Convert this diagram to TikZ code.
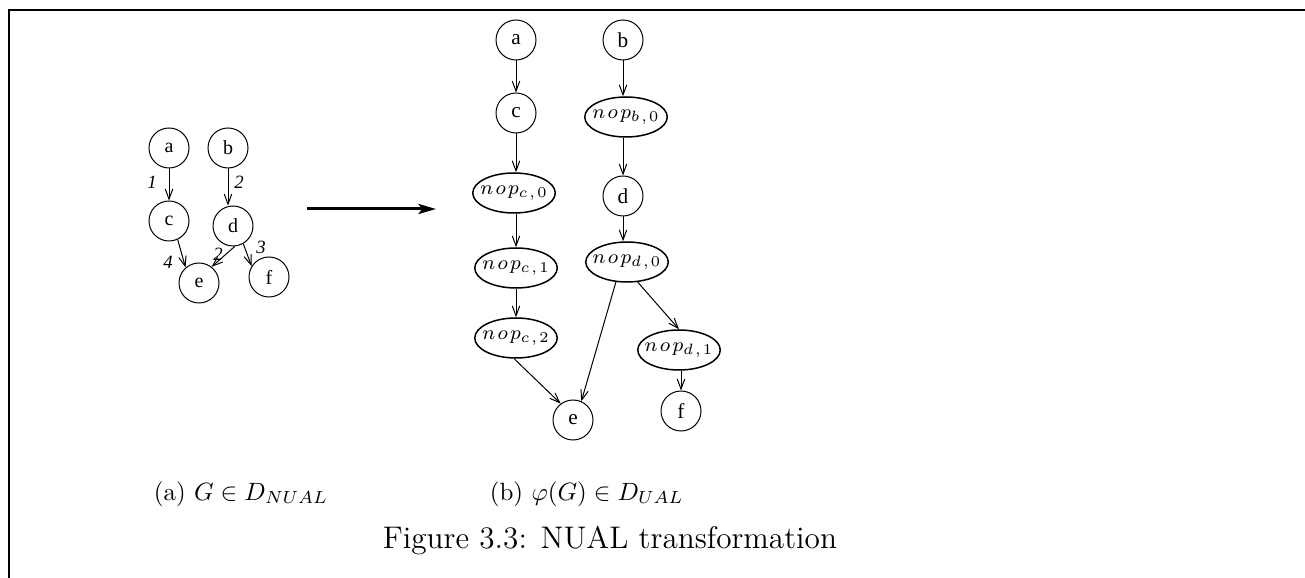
\documentclass[tikz,border=0pt]{standalone}
\usepackage{amsmath}
\usepackage{amssymb}
\usepackage{fontspec}
\usetikzlibrary{arrows.meta,shapes.geometric}
\newfontfamily\figfont{Liberation Serif}
\newcommand{\nopname}[2]{$n\mkern2mu o\mkern2mu p_{#1\mkern2mu,\mkern2mu #2}$}
\tikzset{
    vertex/.style={draw, circle, minimum size=16pt, inner sep=0pt, line width=0.4pt},
    nopnode/.style={draw, ellipse, minimum width=33pt, minimum height=16pt, inner xsep=-3pt, inner ysep=0pt,
            line width=0.6pt, font=\fontsize{8.5}{10}\selectfont},
    edge/.style={-{Straight Barb[length=4pt,width=3pt]}, line width=0.4pt},
    weight/.style={font=\fontsize{7.5}{9}\selectfont\figfont\itshape},
}

\begin{document}
\begin{tikzpicture}[x=0.4pt, y=-0.4pt]
        \useasboundingbox (0, 0) rectangle (1305, 578);
        %frame
        \draw[line width=1pt] (9, 578) -- (9, 10) -- (1305, 10);
        %graph G
        \begin{scope}[every node/.append style={font=\fontsize{8}{9}\selectfont\figfont}]
            \node[vertex] (a) at (169, 148) {a};
            \node[vertex] (b) at (228, 148) {b};
            \node[vertex] (c) at (169, 221) {c};
            \node[vertex] (d) at (233, 226) {d};
            \node[vertex] (e) at (199, 283) {e};
            \node[vertex] (f) at (269, 277) {f};
        \end{scope}
        \draw[edge] (a) -- (c);
        \draw[edge] (b) -- (b |- d.north);
        \draw[edge] (c.-65) -- (e.131);
        \draw[edge] (d.-85) -- (e.52);
        \draw[edge] (d.-60) -- (f.148);
        %label weights
        \node[weight] (w1) at (152, 182) {1};
        \node[weight] (w2) at (239, 182) {2};
        \node[weight] (w3) at (168, 262) {4};
        \node[weight] (w4) at (218, 254) {2};
        \node[weight] (w5) at (261, 247) {3};
        %transformation arrow
        \coordinate (from) at (307, 209);
        \coordinate (to) at (436, 209);
        \draw[line width=1.2pt, -{Stealth[length=7pt,width=4pt,inset=1.5pt]}] (from) -- (to);
        %graph phi(G)
        \begin{scope}[every node/.append style={font=\fontsize{8.5}{10}\selectfont\figfont}]
            \node[vertex] (ra) at (516, 40) {a};
            \node[vertex] (rb) at (623, 40) {b};
            \node[vertex] (rc) at (516, 113) {c};
            \node[vertex] (rd) at (623, 196) {d};
            \node[vertex] (re) at (573, 420) {e};
            \node[vertex] (rf) at (681, 411) {f};
        \end{scope}
        \node[nopnode] (nb0) at (626, 117) {\nopname{b}{0}};
        \node[nopnode] (nc0) at (514, 193) {\nopname{c}{0}};
        \node[nopnode] (nc1) at (516, 268) {\nopname{c}{1}};
        \node[nopnode] (nd0) at (627, 262) {\nopname{d}{0}};
        \node[nopnode] (nc2) at (516, 338) {\nopname{c}{2}};
        \node[nopnode] (nd1) at (679, 350) {\nopname{d}{1}};
        \draw[edge] (ra) -- (rc);
        \draw[edge] (rc) -- (rc |- nc0.north);
        \draw[edge] (nc0.south -| rc) -- (rc |- nc1.north);
        \draw[edge] (nc1) -- (nc2);
        \draw[edge] (rb) -- (rb |- nb0.north);
        \draw[edge] (nb0.south -| rd) -- (rd);
        \draw[edge] (rd) -- (rd |- nd0.north);
        \draw[edge] (nc2.-95) -- (re.127);
        \draw[edge] (nd0.-119) -- (re.66);
        \draw[edge] (nd0.-62) -- (nd1.north);
        \draw[edge] (nd1.south -| rf) -- (rf);
        %captions
        \node[anchor=west, font=\fontsize{10}{12}\selectfont] (capa) at (145, 494) {(a) $G \in D_{NUAL}$};
        \node[anchor=west, font=\fontsize{10}{12}\selectfont] (capb) at (481, 494) {(b) $\varphi(G) \in D_{UAL}$};
        \node[font=\fontsize{12.5}{15}\selectfont] (fig) at (610, 541) {Figure 3.3: NUAL transformation};
    \end{tikzpicture}
\end{document}
